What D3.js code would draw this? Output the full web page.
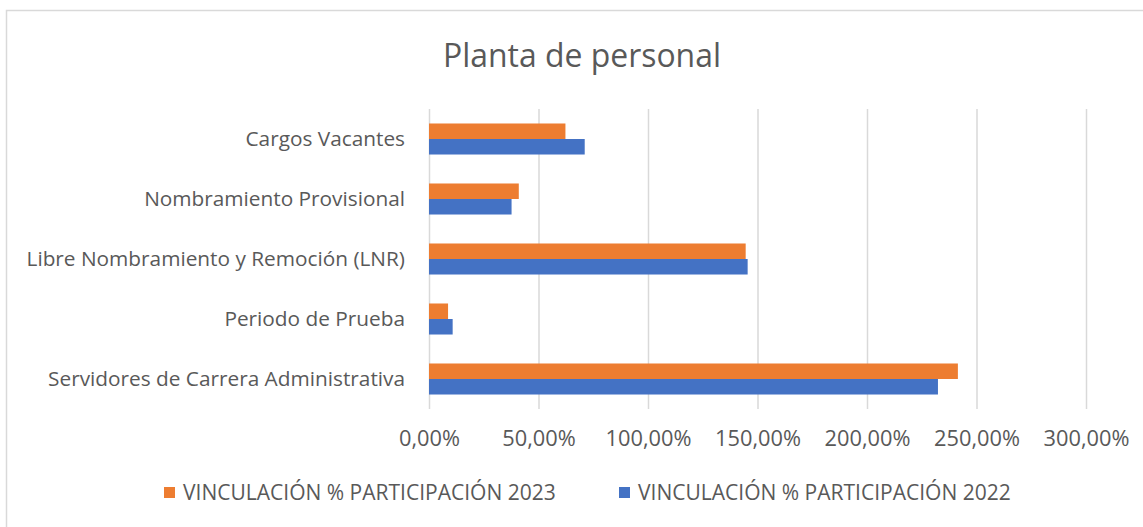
<!DOCTYPE html>
<html>
<head>
<meta charset="utf-8">
<script src="https://cdn.jsdelivr.net/npm/d3@7"></script>
<style>
  body { margin: 0; background: #fff; }
  svg { display: block; }
  svg text { font-family: "Open Sans", sans-serif; }
</style>
</head>
<body>
<div id="chart"></div>
<script>
// categories top to bottom, as in the picture
const categories = [
    'Cargos Vacantes',
    'Nombramiento Provisional',
    'Libre Nombramiento y Remoción (LNR)',
    'Periodo de Prueba',
    'Servidores de Carrera Administrativa'
];
const seriesNames = [
    'VINCULACIÓN % PARTICIPACIÓN 2023',
    'VINCULACIÓN % PARTICIPACIÓN 2022'
];
const values2023 = [0.623, 0.410, 1.446, 0.087, 2.415];
const values2022 = [0.711, 0.377, 1.455, 0.108, 2.324];
const xTicks = [0, 0.5, 1, 1.5, 2, 2.5, 3];

const width = 1143;
const height = 527;
const margin = { top: 109, right: 57, bottom: 118, left: 429 };
const colorSchema = ['#ED7D31', '#4472C4'];
const textColor = '#595959';
const gridColor = '#d9d9d9';

const locale = d3.formatLocale({ decimal: ',', thousands: '.', grouping: [3], currency: ['$', ''] });
const pct = locale.format('.2%');

const rows = categories.map(function (c, i) {
    return { category: c, values: [values2023[i], values2022[i]] };
});

// shrink/grow a selection's font so a reference text gets the wanted width
function fitFont(sel, refNode, targetWidth) {
    sel.style('font-size', '20px');
    const w = refNode.getComputedTextLength();
    sel.style('font-size', (20 * targetWidth / w).toFixed(2) + 'px');
}

const svg = d3.select('#chart')
  .append('svg')
    .attr('width', width)
    .attr('height', height);

// chart frame
svg.append('rect')
    .attr('x', 6.5)
    .attr('y', 10.5)
    .attr('width', width)
    .attr('height', height)
    .attr('fill', '#fff')
    .attr('stroke', gridColor)
    .attr('stroke-width', 1.5);

const chartWidth = width - margin.left - margin.right;
const chartHeight = height - margin.top - margin.bottom;

const x = d3.scaleLinear()
    .domain([0, 3])
    .range([0, chartWidth]);

const y = d3.scaleBand()
    .domain(categories)
    .range([0, chartHeight])
    .paddingInner(0.483)
    .paddingOuter(0.2415);

const ySeries = d3.scaleBand()
    .domain([0, 1])
    .range([0, y.bandwidth()]);

const container = svg.append('g')
    .attr('transform', `translate(${margin.left}, ${margin.top})`);

// x axis + gridlines
const xAxis = container.append('g')
    .attr('transform', `translate(0, ${chartHeight})`)
    .call(d3.axisBottom(x)
        .tickValues(xTicks)
        .tickFormat(pct)
        .tickSize(-chartHeight)
        .tickPadding(22));
xAxis.select('.domain').remove();
xAxis.selectAll('line')
    .attr('stroke', gridColor)
    .attr('stroke-width', 1.5);
const xLabels = xAxis.selectAll('text').attr('fill', textColor);
fitFont(xLabels, xLabels.nodes()[xLabels.size() - 1], 86);

// y axis labels
const yAxis = container.append('g')
    .call(d3.axisLeft(y).tickSize(0).tickPadding(24));
yAxis.select('.domain').remove();
const yLabels = yAxis.selectAll('text').attr('fill', textColor);
fitFont(yLabels, yLabels.nodes()[yLabels.size() - 1], 357);

// bars
const groups = container.selectAll('.bar-group')
    .data(rows)
  .enter()
  .append('g')
    .classed('bar-group', true)
    .attr('transform', function (d) { return `translate(0, ${y(d.category)})`; });

groups.selectAll('rect')
    .data(function (d) { return d.values.map(function (v, i) { return { v: v, i: i }; }); })
  .enter()
  .append('rect')
    .attr('x', x(0))
    .attr('y', function (d) { return ySeries(d.i); })
    .attr('width', function (d) { return x(d.v) - x(0); })
    .attr('height', ySeries.bandwidth())
    .attr('fill', function (d) { return colorSchema[d.i]; });

// title
const title = svg.append('text')
    .attr('x', 582)
    .attr('y', 67)
    .attr('text-anchor', 'middle')
    .attr('fill', textColor)
    .text('Planta de personal');
fitFont(title, title.node(), 278);

// legend
const legendX = [164, 619];
const legend = svg.selectAll('.legend-item')
    .data(seriesNames)
  .enter()
  .append('g')
    .classed('legend-item', true)
    .attr('transform', function (d, i) { return `translate(${legendX[i]}, 493)`; });

legend.append('rect')
    .attr('x', 0)
    .attr('y', -6)
    .attr('width', 11)
    .attr('height', 11)
    .attr('fill', function (d, i) { return colorSchema[i]; });

const legendText = legend.append('text')
    .attr('x', 19)
    .attr('y', 0)
    .attr('dy', '0.35em')
    .attr('fill', textColor)
    .text(function (d) { return d; });
fitFont(legendText, legendText.node(), 373);
</script>
</body>
</html>
